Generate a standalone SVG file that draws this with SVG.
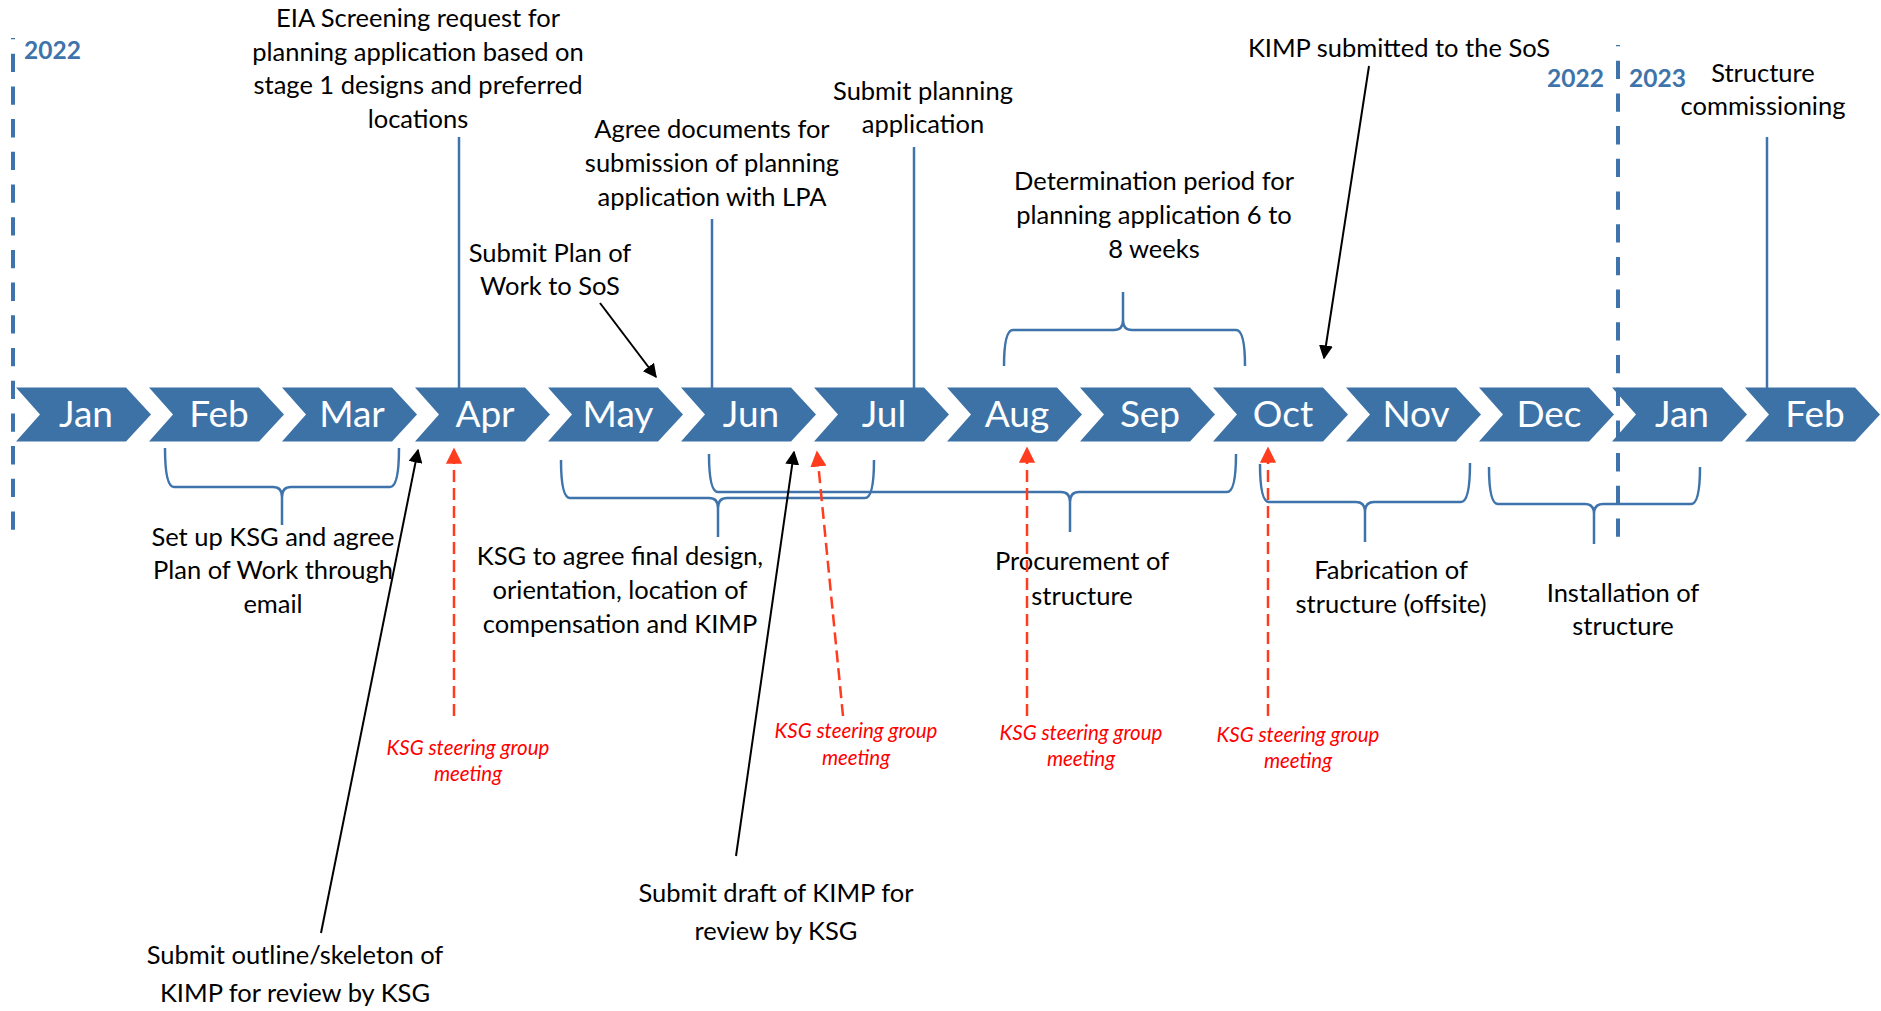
<svg xmlns="http://www.w3.org/2000/svg" xmlns:xlink="http://www.w3.org/1999/xlink" width="1881" height="1011" viewBox="0 0 1881 1011">
<style>
.bg{fill:#ffffff}
.chev{fill:#3D72A7}
.mon{font-family:Lato,"Liberation Sans",sans-serif;font-size:37px;fill:#ffffff;text-anchor:middle}
.lbl{font-family:Lato,"Liberation Sans",sans-serif;font-size:25.5px;fill:#000000;text-anchor:middle}
.yr{font-family:Lato,"Liberation Sans",sans-serif;font-size:24.5px;font-weight:bold;fill:#3E74AB}
.ksg{font-family:Lato,"Liberation Sans",sans-serif;font-size:20.5px;font-style:italic;fill:#FF0000;text-anchor:middle}
.vline{stroke:#3E74AB;stroke-width:2.5;fill:none}
.brace{stroke:#3E74AB;stroke-width:2.5;fill:none}
.ydash{stroke:#3E74AB;stroke-width:4;stroke-dasharray:18.3 14.4;fill:none}
.blk{stroke:#000000;stroke-width:2;fill:none;marker-end:url(#ah)}
.red{stroke:#FF3C1E;stroke-width:2.5;stroke-dasharray:12 6;fill:none;marker-end:url(#rh)}
</style>
<defs>
<path id="chev" d="M0,387.5 H110 L135,414.5 L110,441.5 H0 L24,414.5 Z"/>
<marker id="ah" viewBox="0 0 10 10" refX="9" refY="5" markerWidth="7" markerHeight="7" orient="auto" markerUnits="strokeWidth">
<path d="M0,0 L10,5 L0,10 Z" fill="#000000"/>
</marker>
<marker id="rh" viewBox="0 0 10 10" refX="9" refY="5" markerWidth="6.5" markerHeight="6.5" orient="auto" markerUnits="strokeWidth">
<path d="M0,0 L10,5 L0,10 Z" fill="#FF3C1E"/>
</marker>
</defs>
<rect class="bg" x="0" y="0" width="1881" height="1011"/>

<g id="year-markers">
<line class="ydash" x1="13" y1="38" x2="13" y2="530" stroke-dashoffset="17"/>
<line class="ydash" x1="1618" y1="45" x2="1618" y2="537" stroke-dashoffset="17"/>
<text class="yr" x="24" y="59">2022</text>
<text class="yr" x="1547" y="87">2022</text>
<text class="yr" x="1629" y="87">2023</text>
</g>

<g id="months">
<g id="m-jan22"><use xlink:href="#chev" class="chev" transform="translate(16,0)"/><text class="mon" x="86" y="427">Jan</text></g>
<g id="m-feb22"><use xlink:href="#chev" class="chev" transform="translate(149,0)"/><text class="mon" x="219" y="427">Feb</text></g>
<g id="m-mar22"><use xlink:href="#chev" class="chev" transform="translate(282,0)"/><text class="mon" x="352" y="427">Mar</text></g>
<g id="m-apr22"><use xlink:href="#chev" class="chev" transform="translate(415,0)"/><text class="mon" x="485" y="427">Apr</text></g>
<g id="m-may22"><use xlink:href="#chev" class="chev" transform="translate(548,0)"/><text class="mon" x="618" y="427">May</text></g>
<g id="m-jun22"><use xlink:href="#chev" class="chev" transform="translate(681,0)"/><text class="mon" x="751" y="427">Jun</text></g>
<g id="m-jul22"><use xlink:href="#chev" class="chev" transform="translate(814,0)"/><text class="mon" x="884" y="427">Jul</text></g>
<g id="m-aug22"><use xlink:href="#chev" class="chev" transform="translate(947,0)"/><text class="mon" x="1017" y="427">Aug</text></g>
<g id="m-sep22"><use xlink:href="#chev" class="chev" transform="translate(1080,0)"/><text class="mon" x="1150" y="427">Sep</text></g>
<g id="m-oct22"><use xlink:href="#chev" class="chev" transform="translate(1213,0)"/><text class="mon" x="1283" y="427">Oct</text></g>
<g id="m-nov22"><use xlink:href="#chev" class="chev" transform="translate(1346,0)"/><text class="mon" x="1416" y="427">Nov</text></g>
<g id="m-dec22"><use xlink:href="#chev" class="chev" transform="translate(1479,0)"/><text class="mon" x="1549" y="427">Dec</text></g>
<g id="m-jan23"><use xlink:href="#chev" class="chev" transform="translate(1612,0)"/><text class="mon" x="1682" y="427">Jan</text></g>
<g id="m-feb23"><use xlink:href="#chev" class="chev" transform="translate(1745,0)"/><text class="mon" x="1815" y="427">Feb</text></g>
</g>

<g id="n-eia"><text class="lbl"><tspan x="418" y="27">EIA Screening request for</tspan><tspan x="418" y="60.5">planning application based on</tspan><tspan x="418" y="94">stage 1 designs and preferred</tspan><tspan x="418" y="128">locations</tspan></text></g>
<g id="n-agree-docs"><text class="lbl"><tspan x="712" y="138">Agree documents for</tspan><tspan x="712" y="172">submission of planning</tspan><tspan x="712" y="206">application with LPA</tspan></text></g>
<g id="n-submit-planning"><text class="lbl"><tspan x="923" y="100">Submit planning</tspan><tspan x="923" y="133">application</tspan></text></g>
<g id="n-plan-of-work"><text class="lbl"><tspan x="550" y="262">Submit Plan of</tspan><tspan x="550" y="295">Work to SoS</tspan></text></g>
<g id="n-determination"><text class="lbl"><tspan x="1154" y="190">Determination period for</tspan><tspan x="1154" y="224">planning application 6 to</tspan><tspan x="1154" y="258">8 weeks</tspan></text></g>
<g id="n-kimp-sos"><text class="lbl"><tspan x="1399" y="57">KIMP submitted to the SoS</tspan></text></g>
<g id="n-commissioning"><text class="lbl"><tspan x="1763" y="82">Structure</tspan><tspan x="1763" y="115">commissioning</tspan></text></g>
<g id="n-setup-ksg"><text class="lbl"><tspan x="273" y="546">Set up KSG and agree</tspan><tspan x="273" y="579">Plan of Work through</tspan><tspan x="273" y="613">email</tspan></text></g>
<g id="n-ksg-agree"><text class="lbl"><tspan x="620" y="565">KSG to agree final design,</tspan><tspan x="620" y="599">orientation, location of</tspan><tspan x="620" y="633">compensation and KIMP</tspan></text></g>
<g id="n-procurement"><text class="lbl"><tspan x="1082" y="570">Procurement of</tspan><tspan x="1082" y="605">structure</tspan></text></g>
<g id="n-fabrication"><text class="lbl"><tspan x="1391" y="579">Fabrication of</tspan><tspan x="1391" y="613">structure (offsite)</tspan></text></g>
<g id="n-installation"><text class="lbl"><tspan x="1623" y="602">Installation of</tspan><tspan x="1623" y="635">structure</tspan></text></g>
<g id="n-outline-kimp"><text class="lbl"><tspan x="295" y="964">Submit outline/skeleton of</tspan><tspan x="295" y="1002">KIMP for review by KSG</tspan></text></g>
<g id="n-draft-kimp"><text class="lbl"><tspan x="776" y="902">Submit draft of KIMP for</tspan><tspan x="776" y="940">review by KSG</tspan></text></g>
<g id="n-ksg-meet-1"><text class="ksg"><tspan x="468" y="755">KSG steering group</tspan><tspan x="468" y="781">meeting</tspan></text></g>
<g id="n-ksg-meet-2"><text class="ksg"><tspan x="856" y="738">KSG steering group</tspan><tspan x="856" y="765">meeting</tspan></text></g>
<g id="n-ksg-meet-3"><text class="ksg"><tspan x="1081" y="740">KSG steering group</tspan><tspan x="1081" y="766">meeting</tspan></text></g>
<g id="n-ksg-meet-4"><text class="ksg"><tspan x="1298" y="742">KSG steering group</tspan><tspan x="1298" y="768">meeting</tspan></text></g>

<g id="connectors">
<line class="vline" x1="459" y1="137" x2="459" y2="388"/>
<line class="vline" x1="712" y1="219" x2="712" y2="388"/>
<line class="vline" x1="914" y1="147" x2="914" y2="388"/>
<line class="vline" x1="1767" y1="137" x2="1767" y2="388"/>
<path class="brace" d="M165,448 Q165,487 174,487 H273 Q282,487 282,497 L282,525 M399,448 Q399,487 390,487 H291 Q282,487 282,497"/>
<path class="brace" d="M561,460 Q561,498 570,498 H709 Q718,498 718,508 L718,537 M874,460 Q874,498 865,498 H727 Q718,498 718,508"/>
<path class="brace" d="M709,454 Q709,492 718,492 H1061 Q1070,492 1070,502 L1070,532 M1236,454 Q1236,492 1227,492 H1079 Q1070,492 1070,502"/>
<path class="brace" d="M1260,464 Q1260,502 1269,502 H1356 Q1365,502 1365,512 L1365,542 M1470,463 Q1470,502 1461,502 H1374 Q1365,502 1365,512"/>
<path class="brace" d="M1489,467 Q1489,504 1498,504 H1585 Q1594,504 1594,514 L1594,544 M1700,467 Q1700,504 1691,504 H1603 Q1594,504 1594,514"/>
<path class="brace" d="M1004,366 Q1004,330 1013,330 H1114 Q1123,330 1123,320 L1123,292 M1245,366 Q1245,330 1236,330 H1132 Q1123,330 1123,320"/>
<line class="blk" x1="600" y1="303" x2="656" y2="377"/>
<line class="blk" x1="1369" y1="66" x2="1324" y2="358"/>
<line class="blk" x1="321" y1="933" x2="418" y2="450"/>
<line class="blk" x1="736" y1="856" x2="794" y2="452"/>
<line class="red" x1="454" y1="716" x2="454" y2="449"/>
<line class="red" x1="843" y1="716" x2="817" y2="452"/>
<line class="red" x1="1027" y1="716" x2="1027" y2="448"/>
<line class="red" x1="1268" y1="716" x2="1268" y2="448"/>
</g>
</svg>
